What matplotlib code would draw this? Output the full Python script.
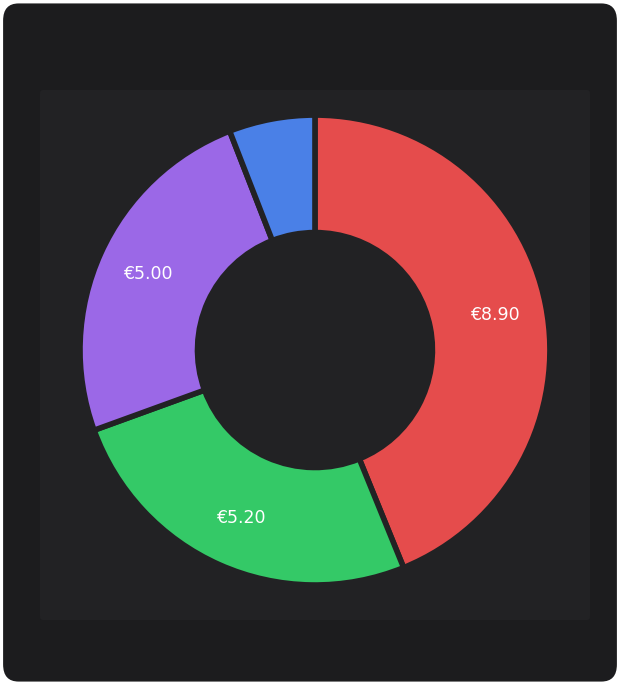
import matplotlib
matplotlib.use("Agg")
import matplotlib.pyplot as plt
from matplotlib.patches import FancyBboxPatch
import numpy as np

labels = ["€8.90", "€5.20", "€5.00", ""]
values = [8.90, 5.20, 5.00, 1.20]
colors = ["#e54c4c", "#34c967", "#9b68e7", "#4a80e7"]

fig = plt.figure(figsize=(6.2, 6.85), dpi=100)
fig.patch.set_facecolor("white")
bg = FancyBboxPatch((0.005, 0.005), 0.99, 0.99, boxstyle="round,pad=0,rounding_size=0.025",
                    transform=fig.transFigure, facecolor="#1c1c1e", edgecolor="none", zorder=-10)
fig.patches.append(bg)
panel = FancyBboxPatch((40/620, 1-620/685), 550/620, 530/685, boxstyle="round,pad=0,rounding_size=0.005",
                       transform=fig.transFigure, facecolor="#222224", edgecolor="none", zorder=-9)
fig.patches.append(panel)

ax = fig.add_axes([0.129, 0.146, 0.758, 0.686])
ax.set_zorder(5)
ax.set_facecolor("none")
wedges, _ = ax.pie(values, colors=colors, startangle=90, counterclock=False,
                   radius=1.0, wedgeprops=dict(width=0.5, edgecolor="#222224", linewidth=4))
total = sum(values)
start = 90.0
for v, lab in zip(values, labels):
    ang = start - v / total * 360 / 2
    start -= v / total * 360
    if lab:
        r = 0.78
        ax.text(r*np.cos(np.radians(ang)), r*np.sin(np.radians(ang)), lab,
                ha="center", va="center", color="white", fontsize=12.5)
ax.set_xlim(-1, 1); ax.set_ylim(-1, 1)
ax.set_aspect("equal")
ax.axis("off")
fig.savefig("out.png", dpi=100, facecolor=fig.get_facecolor())
